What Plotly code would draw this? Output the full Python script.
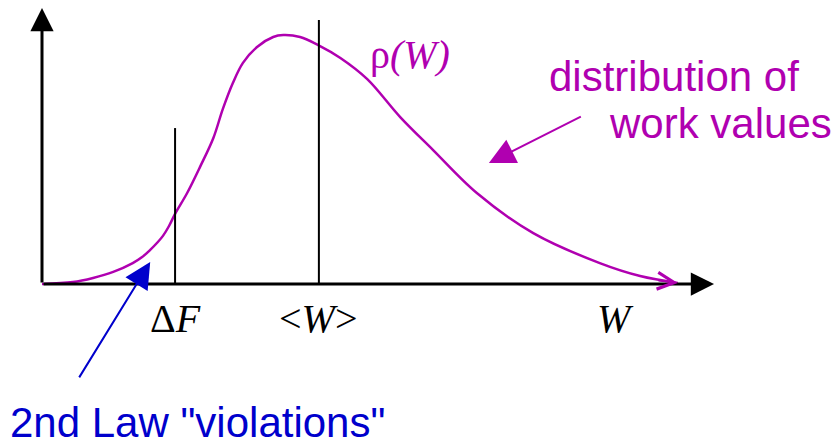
import plotly.graph_objects as go

# work distribution rho(W) (W in arbitrary units, rho normalised)
work = [0.0, 0.46, 0.76, 1.06, 1.35, 1.49, 1.61, 1.71, 1.80, 1.89, 1.98, 2.16, 2.35, 2.55, 2.69,
        2.84, 2.99, 3.20, 3.44, 3.59, 3.84, 4.11, 4.44, 4.84, 5.33, 5.82, 6.47, 7.31, 8.30, 8.90, 9.46]
rho = [0.0, 0.007, 0.022, 0.044, 0.076, 0.098, 0.124, 0.149, 0.175, 0.211, 0.255, 0.331, 0.425, 0.531, 0.636,
       0.731, 0.804, 0.862, 0.898, 0.905, 0.898, 0.869, 0.822, 0.745, 0.607, 0.487, 0.331, 0.185, 0.076, 0.029, 0.004]

# vertical markers: Delta F and <W>
marker_w = [1.98, 4.12]
marker_top = [0.567, 0.96]

MAGENTA = "#b000b0"
BLUE = "#0000cc"
SERIF = "Liberation Serif, Times New Roman, serif"
SANS = "Liberation Sans, Arial, Helvetica, sans-serif"

fig = go.Figure()

fig.add_trace(go.Scatter(
    x=work, y=rho, mode="lines",
    line=dict(color=MAGENTA, width=2.5, shape="spline", smoothing=1.0),
    hoverinfo="skip",
))

mx, my = [], []
for w, top in zip(marker_w, marker_top):
    mx += [w, w, None]
    my += [0, top, None]
fig.add_trace(go.Scatter(x=mx, y=my, mode="lines",
                         line=dict(color="black", width=2), hoverinfo="skip"))


def arrow(x, y, ax, ay, color, width, head, size):
    return dict(x=x, y=y, ax=ax, ay=ay, xref="x", yref="y", axref="x", ayref="y",
                text="", showarrow=True, arrowhead=head, arrowsize=size,
                arrowwidth=width, arrowcolor=color, standoff=0, startstandoff=0)


def label(x, y, text, color, size, family, xanchor="center"):
    return dict(x=x, y=y, xref="x", yref="y", text=text, showarrow=False,
                xanchor=xanchor, yanchor="middle",
                font=dict(color=color, size=size, family=family))


annotations = [
    # axes
    arrow(10.0, 0, 0, 0, "black", 3, 2, 1.55),
    arrow(0, 1.004, 0, 0, "black", 3, 2, 1.55),
    # end of the curve
    arrow(work[-1], rho[-1], 9.15, 0.012, MAGENTA, 1.5, 5, 2.2),
    # pointers
    arrow(6.65, 0.44, 8.04, 0.611, MAGENTA, 2, 2, 2.6),
    arrow(1.61, 0.08, 0.54, -0.345, BLUE, 2, 2, 2.6),
    # text
    label(1.98, -0.124, "Δ<i>F</i>", "black", 40, SERIF),
    label(4.11, -0.124, "&lt;<i>W</i>&gt;", "black", 40, SERIF),
    label(8.54, -0.124, "<i>W</i>", "black", 40, SERIF),
    label(5.48, 0.836, "ρ<i>(W)</i>", MAGENTA, 40, SERIF),
    label(7.515, 0.753, "distribution of", MAGENTA, 42, SANS, "left"),
    label(8.41, 0.585, "work values", MAGENTA, 42, SANS, "left"),
    label(-0.51, -0.502, "2nd Law \"violations\"", BLUE, 42, SANS, "left"),
]

fig.update_layout(
    width=833, height=442,
    margin=dict(l=0, r=0, t=0, b=0),
    paper_bgcolor="white", plot_bgcolor="white",
    showlegend=False,
    xaxis=dict(range=[-0.625, 11.77], visible=False, fixedrange=True),
    yaxis=dict(range=[-0.5745, 1.0327], visible=False, fixedrange=True),
    annotations=annotations,
)

fig.write_html("out.html", config={"displayModeBar": False},
               post_script="document.body.style.margin='0';")
